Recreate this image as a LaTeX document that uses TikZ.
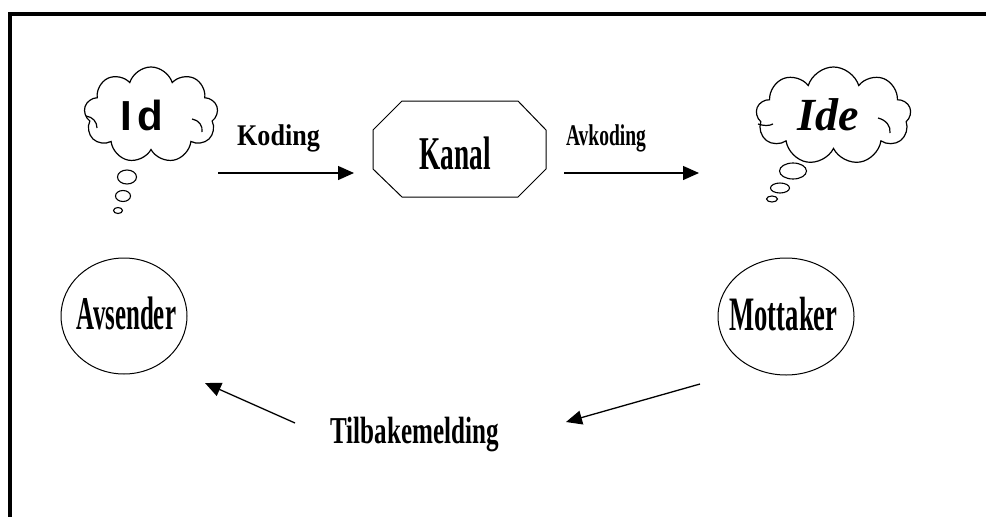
\documentclass[tikz,border=0pt]{standalone}
\usepackage{fontspec}
\setmainfont{Liberation Serif}
\newfontfamily\sansf{Liberation Sans}
\usetikzlibrary{shapes.geometric,shapes.symbols,arrows.meta}
\newcommand{\mylbl}[3]{\scalebox{#1}[1]{\fontsize{#2}{#2}\selectfont\bfseries #3}}
\begin{document}
\begin{tikzpicture}[x=1pt,y=-1pt,
  thought/.style={cloud, draw, line width=1.2pt, inner sep=0pt, cloud puffs=9, cloud puff arc=145},
  curl/.style={line width=1.2pt},
  bubble/.style={ellipse, draw, line width=1.1pt, inner sep=0pt},
  ovalbox/.style={ellipse, draw, line width=1pt, inner sep=0pt},
  octline/.style={line width=1pt, line join=miter},
  lbl/.style={inner sep=0pt, anchor=base},
  flow/.style={line width=1.3pt, -{Triangle[length=16pt,width=14pt]}}
]
\useasboundingbox (0,0) rectangle (986,517);
\draw[line width=4pt, line join=miter] (10,520) -- (10,14) -- (990,14);

% thought clouds
\node[thought, minimum width=134pt, minimum height=96pt] (idcloud) at (151,115) {};
\draw[curl] (86,116) .. controls (93,117) and (97,122) .. (97,128);
\draw[curl] (192,119) .. controls (199,120) and (203,126) .. (202,132);
\node[inner sep=0pt] (idtext) at (142,115) {\fontsize{42}{42}\selectfont\sansf\bfseries I\hspace{5pt}d};
\node[bubble, minimum width=19pt, minimum height=14pt] (ib1) at (127,177) {};
\node[bubble, minimum width=15pt, minimum height=11pt] (ib2) at (123,196) {};
\node[bubble, minimum width=9pt, minimum height=6pt] (ib3) at (118,210.5) {};

\node[thought, minimum width=155pt, minimum height=98pt] (idecloud) at (833.5,116) {};
\draw[curl] (758,124) .. controls (764,126) and (769,126) .. (773,124);
\draw[curl] (878,118) .. controls (886,120) and (891,126) .. (890,133);
\node[inner sep=0pt] (idetext) at (828,115) {\fontsize{46}{46}\selectfont\bfseries\itshape Ide};
\node[bubble, minimum width=27pt, minimum height=16pt] (eb1) at (793,171) {};
\node[bubble, minimum width=19pt, minimum height=10pt] (eb2) at (780,188) {};
\node[bubble, minimum width=11pt, minimum height=6pt] (eb3) at (772,199) {};

% channel
\draw[octline] (402,101) -- (518,101) -- (546,130) -- (546,169) -- (518,197)
  -- (402,197) -- (373,169) -- (373,130) -- cycle;
\node[lbl] (kanal) at (455,169) {\mylbl{0.58}{47}{Kanal}};

% sender / receiver
\node[ovalbox, minimum width=126pt, minimum height=116pt] (avsender) at (124,316) {};
\node[lbl] (avsendertext) at (126.5,329) {\mylbl{0.53}{47}{Avsender}};
\node[ovalbox, minimum width=136pt, minimum height=117pt] (mottaker) at (786,316.5) {};
\node[lbl] (mottakertext) at (783.5,330) {\mylbl{0.555}{48}{Mottaker}};

% labels
\node[lbl] (koding) at (278.5,145) {\mylbl{0.87}{30}{Koding}};
\node[lbl] (avkoding) at (606,145) {\mylbl{0.65}{30}{Avkoding}};
\node[lbl] (tilbake) at (414.5,443) {\mylbl{0.66}{38}{Tilbakemelding}};

% arrow ends
\coordinate (k1) at (218,173);
\coordinate (k2) at (354,173);
\coordinate (a1) at (564,173);
\coordinate (a2) at (699,173);
\coordinate (m1) at (700,384);
\coordinate (m2) at (566,422);
\coordinate (t1) at (295,423);
\coordinate (t2) at (205,383);

\draw[flow] (k1) -- (k2);
\draw[flow] (a1) -- (a2);
\draw[flow] (m1) -- (m2);
\draw[flow] (t1) -- (t2);
\end{tikzpicture}
\end{document}
